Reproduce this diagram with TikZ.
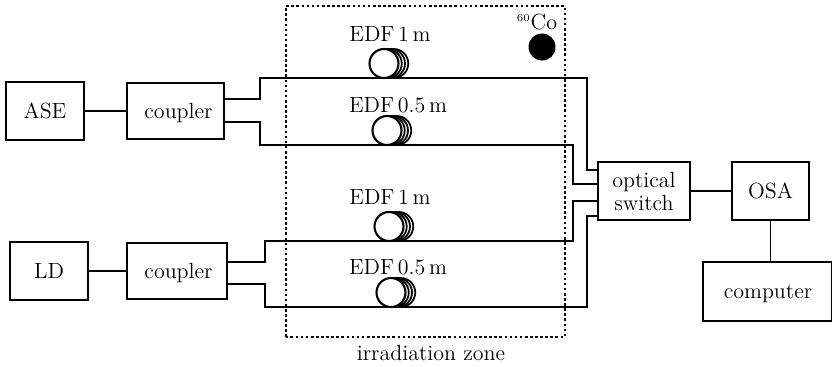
\documentclass[tikz,border=0pt]{standalone}
\usepackage{tikz}
\usetikzlibrary{positioning, calc}

\tikzset{
  unitbox/.style={draw, line width=1pt, inner sep=0pt, outer sep=0pt, font=\fontsize{12.5}{14}\selectfont, align=center, text depth=0pt},
  fiber/.style={line width=1pt, line join=miter},
  label/.style={inner sep=0pt, font=\fontsize{12.5}{14}\selectfont},
  turn/.style={draw, circle, line width=1pt, fill=white, minimum size=0.58cm, inner sep=0pt, outer sep=0pt},
}

\begin{document}
\begin{tikzpicture}
\useasboundingbox (0, 0) rectangle (16.64, 7.32);

% sources and couplers
\node[unitbox, minimum width=1.56cm, minimum height=1.16cm] (ase) at (0.90, 5.10) {ASE};
\node[unitbox, minimum width=1.94cm, minimum height=1.12cm] (couplerA) at (3.51, 5.10) {\hspace*{0.12cm}coupler};
\node[unitbox, minimum width=1.56cm, minimum height=1.16cm] (ld) at (0.98, 1.90) {LD};
\node[unitbox, minimum width=2.00cm, minimum height=1.12cm] (couplerB) at (3.54, 1.90) {\hspace*{0.06cm}coupler};

% right hand side
\node[unitbox, minimum width=1.84cm, minimum height=1.16cm] (switch) at (12.88, 3.50) {optical\\[-1pt]switch};
\node[unitbox, minimum width=1.54cm, minimum height=1.16cm] (osa) at (15.41, 3.50) {OSA};
\node[unitbox, minimum width=2.58cm, minimum height=1.18cm] (computer) at (15.35, 1.49) {\hspace*{0.02cm}computer};

% fiber coils
\foreach \name/\x/\y in {coilA/7.68/6.05, coilB/7.74/4.71, coilC/7.78/2.79, coilD/7.82/1.47} {
  \foreach \s in {0.195, 0.13, 0.065} {
    \node[turn] at (\x + \s, \y) {};
  }
  \node[turn, line width=1.2pt] (\name) at (\x, \y) {};
}

\node[label] (edfA) at (7.80, 6.64) {EDF\hspace{0.17em}1\hspace{0.17em}m};
\node[label] (edfB) at (7.96, 5.22) {EDF\hspace{0.17em}0.5\hspace{0.17em}m};
\node[label] (edfC) at (7.80, 3.38) {EDF\hspace{0.17em}1\hspace{0.17em}m};
\node[label] (edfD) at (7.96, 1.98) {EDF\hspace{0.17em}0.5\hspace{0.17em}m};

% fibers
\draw[fiber] (ase) -- (couplerA);
\draw[fiber] (ld) -- (couplerB);
\draw[fiber] (switch) -- (osa);
\draw[fiber] (osa) -- (osa |- computer.north);

\draw[fiber] (couplerA.east |- 0, 5.34) -- (5.20, 5.34) -- (5.20, 5.76) -- (11.74, 5.76) -- (11.74, 3.92) -- (switch.west |- 0, 3.92);
\draw[fiber] (couplerA.east |- 0, 4.88) -- (5.20, 4.88) -- (5.20, 4.42) -- (11.46, 4.42) -- (11.46, 3.64) -- (switch.west |- 0, 3.64);
\draw[fiber] (couplerB.east |- 0, 2.08) -- (5.30, 2.08) -- (5.30, 2.50) -- (11.46, 2.50) -- (11.46, 3.30) -- (switch.west |- 0, 3.30);
\draw[fiber] (couplerB.east |- 0, 1.64) -- (5.30, 1.64) -- (5.30, 1.18) -- (11.74, 1.18) -- (11.74, 3.00) -- (switch.west |- 0, 3.00);

% irradiation zone
\draw[line width=1.1pt, dash pattern=on 1.5pt off 1.4pt] (5.72, 0.58) rectangle (11.30, 7.20);
\node[label] (zone) at (8.62, 0.26) {irradiation zone};
\node[label] (co) at (10.74, 6.88) {$^{\scriptscriptstyle 60}$Co};
\node[circle, fill=black, minimum size=0.54cm, inner sep=0pt] (source) at (10.84, 6.38) {};
\end{tikzpicture}
\end{document}
